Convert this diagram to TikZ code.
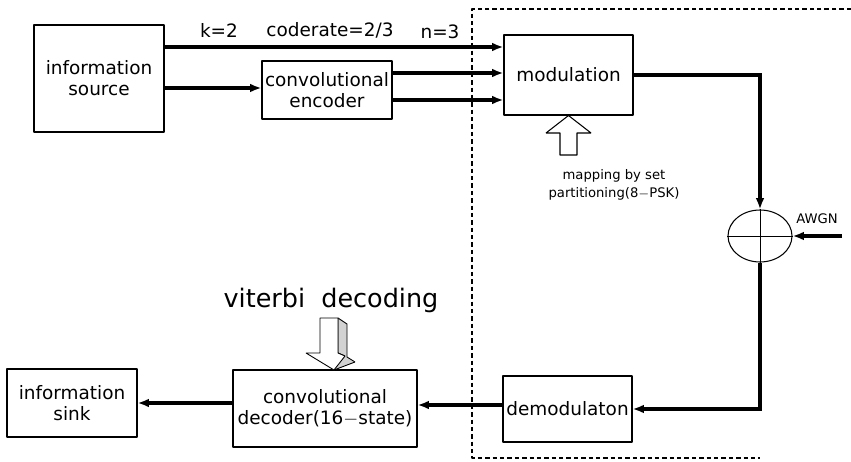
\documentclass[tikz,border=0pt]{standalone}
\usepackage{fontspec}
\setmainfont{DejaVu Sans}
\usetikzlibrary{arrows.meta, positioning, shapes.geometric}

\begin{document}
\begin{tikzpicture}[x=0.02cm, y=-0.02cm, >={Latex[length=6.5pt,width=5pt]}, line join=bevel,
    blk/.style={draw, line width=0.6pt, inner sep=0pt, align=center, font=\fontsize{10.5}{12}\selectfont},
    flow/.style={->, line width=2.2pt, line join=miter},
    lbl/.style={font=\fontsize{10.5}{12}\selectfont}]
             \useasboundingbox (0,0) rectangle (851,462);
             %
             \node[blk, minimum width=2.6cm, minimum height=2.14cm] (src) at (99,78.5) {information\\source};
             \node[blk, minimum width=2.6cm, minimum height=1.16cm] (enc) at (327,90) {convolutional\\encoder};
             \node[blk, minimum width=2.58cm, minimum height=1.6cm] (mod) at (568.5,75) {modulation};
             \node[draw, ellipse, line width=0.6pt, minimum width=1.28cm, minimum height=1.04cm, inner sep=0pt] (adder) at (760,236) {};
             \node[blk, minimum width=2.58cm, minimum height=1.32cm] (demod) at (567.5,409) {demodulaton};
             \node[blk, minimum width=3.68cm, minimum height=1.54cm] (dec) at (325,408.5) {convolutional\\decoder(16$-$state)};
             \node[blk, minimum width=2.6cm, minimum height=1.36cm] (sink) at (72,403) {information\\sink};
             %
             \node[lbl] (k) at (219,30) {k=2};
             \node[lbl] (rate) at (330,30) {coderate=2/3};
             \node[lbl] (n) at (440,32) {n=3};
             \node[font=\fontsize{7.5}{10}\selectfont, align=center] (map) at (614,185) {mapping by set\\partitioning(8$-$PSK)};
             \node[font=\fontsize{7.5}{8}\selectfont] (awgnlbl) at (817,219) {AWGN};
             \node[font=\fontsize{14.5}{16}\selectfont] (vit) at (331,300) {viterbi\ \ decoding};
             \coordinate (awgn) at (842,236);
             %
             \draw (adder.north) -- (adder.south);
             \draw (adder.west) -- (adder.east);
             %
             \draw[flow] ([yshift=0.63cm]src.east) coordinate (s1) -- (s1 -| mod.west);
             \draw[flow] ([yshift=-0.19cm]src.east) coordinate (s2) -- (s2 -| enc.west);
             \draw[flow] ([yshift=0.34cm]enc.east) coordinate (e1) -- (e1 -| mod.west);
             \draw[flow] ([yshift=-0.2cm]enc.east) coordinate (e2) -- (e2 -| mod.west);
             \draw[flow] (mod.east) -| (adder.north);
             \draw[flow] (awgn) -- (adder.east);
             \draw[flow] (adder.south) |- (demod.east);
             \draw[flow] ([yshift=0.08cm]demod.west) coordinate (d1) -- (d1 -| dec.east);
             \draw[flow] (sink.east -| dec.west) -- (sink.east);
             %
             % hollow arrow under the modulator
             \draw[line width=0.6pt] (mod.south) -- (591,133) -- (577,133) -- (577,155)
                 -- (560,155) -- (560,133) -- (546,133) -- cycle;
             % shaded arrow above the decoder
             \draw[line width=0.5pt, fill=gray!35] (338,318) -- (347,324) -- (347,357) -- (355,362)
                 -- (334,370) -- (330,361) -- (345,356) -- (338,353) -- cycle;
             \draw[line width=0.5pt, fill=white] (320,318) -- (338,318) -- (338,353) -- (345,356)
                 -- (334,370) -- (306,353) -- (320,353) -- cycle;
             %
             \draw[dashed, dash pattern=on 2.5pt off 1.7pt, line width=0.6pt]
                 (851,9) -- (472,9) -- (472,458) -- (760,458);
          \end{tikzpicture}
\end{document}
